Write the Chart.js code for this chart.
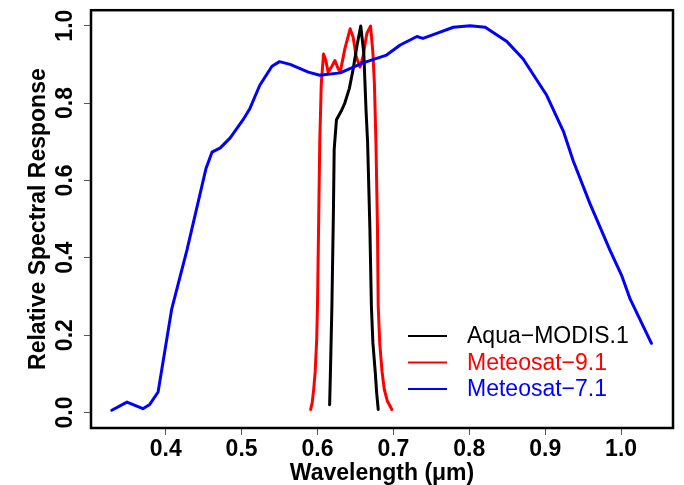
<!DOCTYPE html>
<html>
<head>
<meta charset="utf-8">
<script src="https://cdn.jsdelivr.net/npm/chart.js@4/dist/chart.umd.min.js"></script>
<style>
  html, body { margin: 0; padding: 0; background: #fff; }
  canvas { display: block; }
</style>
</head>
<body>
<canvas id="srf" width="684" height="485"></canvas>
<script>
// Spectral response curves (wavelength in um, relative response)
var modisWl   = [0.616, 0.617, 0.619, 0.621, 0.622, 0.625, 0.632, 0.636, 0.642, 0.647, 0.652, 0.657, 0.661, 0.664, 0.666, 0.669, 0.671, 0.673, 0.676, 0.678, 0.680];
var modisResp = [0.020, 0.100, 0.276, 0.520, 0.680, 0.757, 0.782, 0.800, 0.838, 0.888, 0.948, 0.999, 0.930, 0.780, 0.700, 0.480, 0.276, 0.180, 0.107, 0.050, 0.008];

var met9Wl   = [0.591, 0.593, 0.595, 0.597, 0.599, 0.600, 0.603, 0.605, 0.608, 0.611, 0.614, 0.619, 0.623, 0.627, 0.630, 0.636, 0.643, 0.647, 0.651, 0.656, 0.660, 0.665, 0.670, 0.673, 0.675, 0.677, 0.679, 0.680, 0.682, 0.685, 0.688, 0.692, 0.698];
var met9Resp = [0.008, 0.025, 0.060, 0.107, 0.190, 0.276, 0.700, 0.850, 0.927, 0.910, 0.880, 0.895, 0.910, 0.890, 0.880, 0.940, 0.992, 0.970, 0.920, 0.893, 0.920, 0.980, 0.999, 0.930, 0.850, 0.700, 0.480, 0.276, 0.180, 0.107, 0.060, 0.030, 0.008];

var met7Wl   = [0.329, 0.349, 0.370, 0.379, 0.390, 0.408, 0.428, 0.453, 0.461, 0.472, 0.485, 0.502, 0.511, 0.524, 0.540, 0.550, 0.564, 0.588, 0.603, 0.630, 0.660, 0.691, 0.709, 0.731, 0.739, 0.757, 0.779, 0.801, 0.821, 0.849, 0.871, 0.902, 0.924, 0.937, 0.959, 0.985, 1.001, 1.012, 1.040];
var met7Resp = [0.006, 0.027, 0.010, 0.021, 0.053, 0.268, 0.420, 0.630, 0.673, 0.684, 0.710, 0.757, 0.786, 0.846, 0.895, 0.907, 0.900, 0.880, 0.872, 0.878, 0.904, 0.924, 0.950, 0.972, 0.967, 0.980, 0.996, 1.000, 0.996, 0.960, 0.914, 0.820, 0.727, 0.650, 0.540, 0.421, 0.353, 0.293, 0.179];

var seriesNames = ['Aqua\u2212MODIS.1', 'Meteosat\u22129.1', 'Meteosat\u22127.1'];
var xTicks = [0.4, 0.5, 0.6, 0.7, 0.8, 0.9, 1.0];
var yTicks = [0.0, 0.2, 0.4, 0.6, 0.8, 1.0];
var xTitle = 'Wavelength (\u03bcm)';
var yTitle = 'Relative Spectral Response';

var FONT = '"Liberation Sans", Arial, Helvetica, sans-serif';

function toPoints(xs, ys) {
    var pts = [];
    for (var i = 0; i < xs.length; i++) {
        pts.push({ x: xs[i], y: ys[i] });
    }
    return pts;
}

// Box, rotated y labels, axis titles and in-plot legend (R style)
var rStyle = {
    id: 'rStyle',
    afterDraw: function (chart) {
        var ctx = chart.ctx;
        var area = chart.chartArea;
        var ys = chart.scales.y;

        ctx.save();
        ctx.strokeStyle = '#000';
        ctx.lineWidth = 2.5;
        ctx.strokeRect(area.left, area.top, area.right - area.left, area.bottom - area.top);

        ctx.fillStyle = '#000';
        ctx.font = 'bold 23px ' + FONT;
        ctx.textAlign = 'center';
        ctx.textBaseline = 'middle';
        yTicks.forEach(function (v) {
            ctx.save();
            ctx.translate(66, ys.getPixelForValue(v));
            ctx.rotate(-Math.PI / 2);
            ctx.fillText(v.toFixed(1), 0, 0);
            ctx.restore();
        });

        ctx.save();
        ctx.translate(39, (area.top + area.bottom) / 2);
        ctx.rotate(-Math.PI / 2);
        ctx.fillText(yTitle, 0, 0);
        ctx.restore();

        ctx.textBaseline = 'alphabetic';
        ctx.fillText(xTitle, (area.left + area.right) / 2, 480);

        // legend
        ctx.font = '23px ' + FONT;
        ctx.textAlign = 'left';
        ctx.textBaseline = 'middle';
        chart.data.datasets.forEach(function (ds, i) {
            var y = 336 + i * 26.5;
            ctx.strokeStyle = ds.borderColor;
            ctx.lineWidth = 2;
            ctx.beginPath();
            ctx.moveTo(408, y);
            ctx.lineTo(447, y);
            ctx.stroke();
            ctx.fillStyle = ds.borderColor;
            ctx.fillText(ds.label, 467, y + 1);
        });
        ctx.restore();
    }
};

new Chart(document.getElementById('srf').getContext('2d'), {
    type: 'line',
    data: {
        datasets: [
            { label: seriesNames[0], data: toPoints(modisWl, modisResp), borderColor: '#000000', order: 1 },
            { label: seriesNames[1], data: toPoints(met9Wl, met9Resp), borderColor: '#ff0000', order: 2 },
            { label: seriesNames[2], data: toPoints(met7Wl, met7Resp), borderColor: '#0000ff', order: 0 }
        ]
    },
    options: {
        responsive: false,
        animation: false,
        devicePixelRatio: 1,
        elements: {
            line: { borderWidth: 3, tension: 0, fill: false, borderJoinStyle: 'round', borderCapStyle: 'round' },
            point: { radius: 0 }
        },
        layout: { padding: { top: 7, right: 11, left: 0, bottom: 0 } },
        plugins: {
            legend: { display: false },
            tooltip: { enabled: false }
        },
        scales: {
            x: {
                type: 'linear',
                min: 0.3016,
                max: 1.0684,
                afterBuildTicks: function (scale) {
                    scale.ticks = xTicks.map(function (v) { return { value: v }; });
                },
                afterFit: function (scale) { scale.height = 57; },
                grid: { drawOnChartArea: false, drawTicks: true, tickLength: 7, color: '#555', lineWidth: 1 },
                border: { display: false },
                ticks: {
                    color: '#000',
                    padding: 1,
                    maxRotation: 0,
                    autoSkip: false,
                    font: { family: FONT, size: 23, weight: 'bold' },
                    callback: function (v) { return v.toFixed(1); }
                }
            },
            y: {
                type: 'linear',
                min: -0.04,
                max: 1.04,
                afterBuildTicks: function (scale) {
                    scale.ticks = yTicks.map(function (v) { return { value: v }; });
                },
                afterFit: function (scale) { scale.width = 91; },
                grid: { drawOnChartArea: false, drawTicks: true, tickLength: 7, color: '#555', lineWidth: 1 },
                border: { display: false },
                ticks: {
                    autoSkip: false,
                    callback: function () { return ''; }
                }
            }
        }
    },
    plugins: [rStyle]
});
</script>
</body>
</html>
